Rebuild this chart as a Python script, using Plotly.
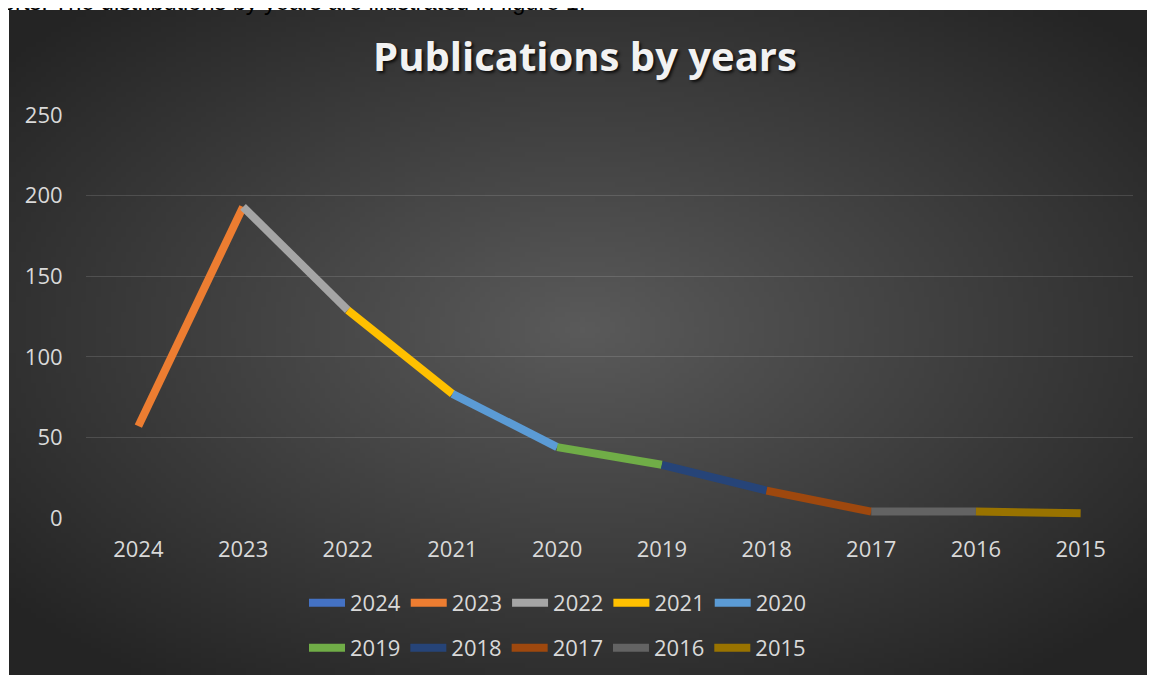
import base64
import struct
import zlib

import plotly.graph_objects as go

# ---------------- data ----------------
years = ["2024", "2023", "2022", "2021", "2020", "2019", "2018", "2017", "2016", "2015"]
publications = [57, 193, 129, 77, 44, 33, 17, 4, 4, 3]
series_colors = ["#4472C4", "#ED7D31", "#A5A5A5", "#FFC000", "#5B9BD5",
                 "#70AD47", "#264478", "#9E480E", "#636363", "#997300"]
y_ticks = [0, 50, 100, 150, 200, 250]
title_text = "Publications by years"
top_text = "orts. The distributions by years are illustrated in figure 1."

# ---------------- figure geometry (page pixels -> figure pixels) ----------------
OFF = 8                          # default body margin of the page
VW, VH = 1155, 675               # browser window
W, H = VW - OFF, VH - OFF        # figure reaches the window's right/bottom edges
PL, PR, PT, PB = 86, 1133, 115, 518   # plot area in page pixels
ML, MT = PL - OFF, PT - OFF
MR, MB = W - (PR - OFF), H - (PB - OFF)
PW, PH = W - ML - MR, H - MT - MB


def px_to_paper_x(page_px):
    return (page_px - OFF - ML) / PW


def px_to_paper_y(page_py):
    return (H - MB - (page_py - OFF)) / PH


# ---------------- radial gradient background (PNG data URI) ----------------
def gradient_png(w, h, c_in=(0x5A, 0x5A, 0x5A), c_out=(0x24, 0x24, 0x24)):
    rows = []
    cx, cy = w * 0.5, h * 0.48
    for j in range(h):
        row = bytearray([0])
        for i in range(w):
            dx = (i + 0.5 - cx) / (w * 0.5)
            dy = (j + 0.5 - cy) / (h * 0.5)
            t = min(1.0, ((dx * dx + dy * dy) ** 0.5) / 1.3)
            for k in range(3):
                row.append(int(round(c_in[k] + (c_out[k] - c_in[k]) * t)))
        rows.append(bytes(row))
    raw = b"".join(rows)

    def chunk(tag, data):
        c = struct.pack(">I", len(data)) + tag + data
        return c + struct.pack(">I", zlib.crc32(tag + data) & 0xFFFFFFFF)

    png = b"\x89PNG\r\n\x1a\n"
    png += chunk(b"IHDR", struct.pack(">IIBBBBB", w, h, 8, 2, 0, 0, 0))
    png += chunk(b"IDAT", zlib.compress(raw, 9))
    png += chunk(b"IEND", b"")
    return "data:image/png;base64," + base64.b64encode(png).decode()


bg_left, bg_top = 9, 10      # page pixels
bg_src = gradient_png(230, 133)

fig = go.Figure()

for i, yr in enumerate(years):
    if i == 0:
        xs, ys = [years[0]], [publications[0]]
    else:
        xs, ys = [years[i - 1], years[i]], [publications[i - 1], publications[i]]
    fig.add_trace(go.Scatter(
        x=xs, y=ys, mode="lines", name=yr,
        line=dict(color=series_colors[i], width=8),
        legend="legend" if i < 5 else "legend2",
        hovertemplate=yr + ": %{y}<extra></extra>",
    ))

font_family = "Open Sans, Liberation Sans, sans-serif"
label_color = "#D9D9D9"
label_size = 22

legend_common = dict(
    orientation="h", xanchor="left", yanchor="middle",
    font=dict(size=label_size, color=label_color), bgcolor="rgba(0,0,0,0)",
    itemwidth=36,
)

fig.update_layout(
    width=W, height=H,
    margin=dict(l=ML, r=MR, t=MT, b=MB, autoexpand=False),
    paper_bgcolor="white",
    plot_bgcolor="rgba(0,0,0,0)",
    font=dict(family=font_family, size=label_size, color=label_color),
    title=dict(
        text=title_text, x=(585 - OFF) / W, xanchor="center",
        y=1 - (57 - OFF) / H, yanchor="middle",
        font=dict(family="Open Sans, sans-serif", size=40, color="#F2F2F2", weight="bold",
                  shadow="2px 2px 3px rgba(0,0,0,0.75)"),
    ),
    xaxis=dict(
        type="category", categoryorder="array", categoryarray=years,
        range=[-0.5, len(years) - 0.5],
        showgrid=False, zeroline=False, showline=False,
        ticks="outside", ticklen=12, tickcolor="rgba(0,0,0,0)",
        tickfont=dict(size=label_size, color=label_color),
        fixedrange=True,
    ),
    yaxis=dict(
        range=[0, 250], tickvals=y_ticks,
        showgrid=True, gridcolor="rgba(255,255,255,0.13)", gridwidth=1.3,
        zeroline=False, showline=False,
        ticks="outside", ticklen=18, tickcolor="rgba(0,0,0,0)",
        tickfont=dict(size=label_size, color=label_color),
        fixedrange=True,
    ),
    legend=dict(x=px_to_paper_x(304), y=px_to_paper_y(603), **legend_common),
    legend2=dict(x=px_to_paper_x(304), y=px_to_paper_y(648), **legend_common),
    images=[dict(
        source=bg_src, xref="paper", yref="paper",
        x=px_to_paper_x(bg_left), y=px_to_paper_y(bg_top),
        sizex=(W + OFF - bg_left) / PW, sizey=(H + OFF - bg_top) / PH,
        xanchor="left", yanchor="top", sizing="stretch", layer="below",
    )],
    annotations=[dict(
        text=top_text, xref="paper", yref="paper",
        x=px_to_paper_x(0), xanchor="left",
        y=px_to_paper_y(17.5), yanchor="bottom",
        showarrow=False,
        font=dict(family="Liberation Sans, Arial, sans-serif", size=23.5, color="#000000"),
    )],
    showlegend=True,
)

fig.write_html("out.html")
